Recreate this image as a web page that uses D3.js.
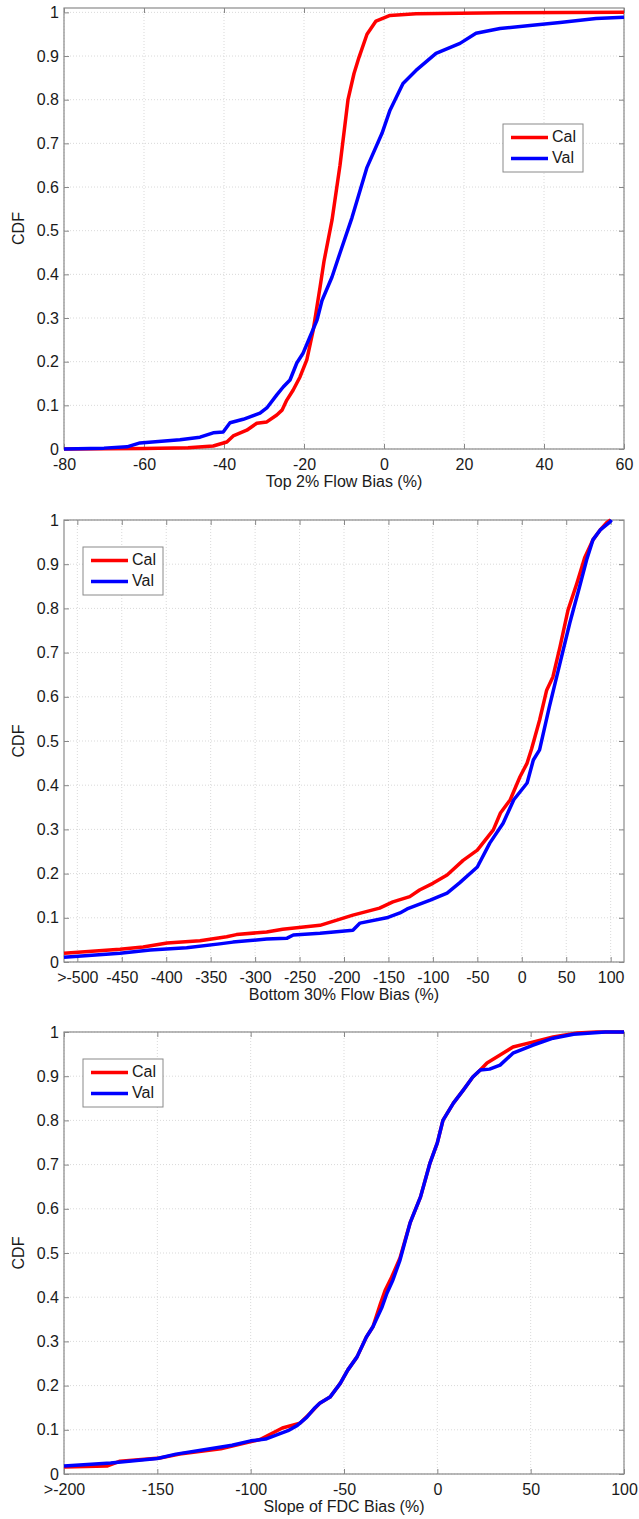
<!DOCTYPE html>
<html><head><meta charset="utf-8">
<script src="https://cdn.jsdelivr.net/npm/d3@7"></script>
<style>
body{margin:0;background:#fff;}
text{font-family:"Liberation Sans",Arial,sans-serif;fill:#1a1a1a;}
</style></head>
<body><svg id="c" width="639" height="1519"></svg>
<script>
// ---------- data ----------
const yTicks = [0,0.1,0.2,0.3,0.4,0.5,0.6,0.7,0.8,0.9,1];
const seriesNames = ["Cal","Val"];

const p1Ticks = [-80,-60,-40,-20,0,20,40,60];
const p1TickLabels = ["-80","-60","-40","-20","0","20","40","60"];
const p1CalX = [-80,-60,-49,-42.7,-39.3,-37.7,-34.3,-31.8,-29.3,-26.8,-25.5,-24.3,-22.7,-21,-19.3,-17.7,-16,-15,-13,-11,-9,-7.5,-6.25,-4.25,-2,1.5,8,30,60];
const p1CalY = [0,0.001,0.003,0.007,0.016,0.03,0.043,0.059,0.062,0.078,0.089,0.112,0.135,0.165,0.204,0.272,0.37,0.43,0.524,0.65,0.80,0.86,0.897,0.95,0.98,0.993,0.997,0.999,1.0];
const p1ValX = [-80,-70,-64.25,-61,-51,-46,-42.7,-40.2,-38.5,-35.2,-31,-29.3,-26.8,-25.2,-23.5,-21.8,-20.2,-18.5,-16.75,-15.5,-13,-11,-8,-4.25,-0.5,1.5,4.75,8,13,19,23,29,36.5,44,53,60];
const p1ValY = [0,0.002,0.005,0.014,0.021,0.027,0.037,0.039,0.06,0.068,0.082,0.094,0.124,0.142,0.158,0.197,0.22,0.257,0.295,0.34,0.394,0.449,0.53,0.645,0.723,0.776,0.837,0.867,0.906,0.929,0.952,0.963,0.970,0.977,0.986,0.989];

const p2Ticks = [-500,-450,-400,-350,-300,-250,-200,-150,-100,-50,0,50,100];
const p2TickLabels = [">-500","-450","-400","-350","-300","-250","-200","-150","-100","-50","0","50","100"];
const p2CalX = [-515,-452,-426,-399,-362,-332,-321,-287,-269,-227,-190,-160,-145,-126,-115,-100,-84,-66,-50,-32,-24,-13,-2,6,11,20,28,35,43,52,62,71,80,88,96,100];
const p2CalY = [0.020,0.029,0.034,0.043,0.048,0.057,0.062,0.068,0.074,0.083,0.106,0.122,0.136,0.148,0.163,0.178,0.197,0.23,0.253,0.299,0.337,0.367,0.419,0.45,0.482,0.547,0.615,0.645,0.713,0.796,0.857,0.916,0.955,0.977,0.995,1.0];
const p2ValX = [-515,-452,-418,-377,-340,-325,-287,-264,-257,-227,-190,-182,-152,-137,-129,-103,-84,-70,-50,-36,-21,-9,6,13,20,31,43,54,65,73,80,88,99,101];
const p2ValY = [0.011,0.02,0.027,0.032,0.041,0.045,0.052,0.054,0.061,0.065,0.072,0.088,0.1,0.111,0.12,0.14,0.156,0.179,0.215,0.269,0.314,0.367,0.405,0.457,0.48,0.577,0.676,0.767,0.849,0.91,0.955,0.977,0.995,1.0];

const p3Ticks = [-200,-150,-100,-50,0,50,100];
const p3TickLabels = [">-200","-150","-100","-50","0","50","100"];
const p3CalX = [-200,-177,-170,-148.6,-138,-116,-102,-95,-83,-73.6,-68,-63,-57.5,-52,-48,-43,-38,-34.5,-30.5,-28,-24.5,-20,-14.6,-9,-3.9,0,3,8.6,14,19,23,26.6,33.6,40.5,51,62,75,85,100];
const p3CalY = [0.016,0.018,0.029,0.036,0.045,0.057,0.071,0.078,0.104,0.115,0.138,0.16,0.174,0.205,0.235,0.265,0.31,0.333,0.385,0.415,0.445,0.489,0.568,0.627,0.704,0.749,0.80,0.839,0.869,0.898,0.914,0.93,0.948,0.966,0.977,0.989,0.998,1.0,1.0];
const p3ValX = [-200,-175,-150,-140,-125,-110,-100,-92,-85,-80,-75,-70,-66,-63,-57.5,-52,-48,-43,-38,-34.5,-29.6,-27,-23.8,-20,-14.6,-9,-3.9,0,3,8.6,14,19,23,28,33.6,40.5,51,62,73,90,100];
const p3ValY = [0.018,0.025,0.035,0.045,0.055,0.065,0.075,0.079,0.09,0.098,0.11,0.128,0.148,0.16,0.174,0.205,0.235,0.265,0.31,0.333,0.378,0.409,0.439,0.484,0.568,0.627,0.704,0.749,0.80,0.839,0.869,0.898,0.914,0.916,0.925,0.952,0.97,0.986,0.995,1.0,1.0];

const panels = [
  {top:8, bottom:449, xdom:[-80,60], ydom:[0,1.01], ticks:p1Ticks, labels:p1TickLabels, title:"Top 2% Flow Bias (%)",
   cal:[p1CalX,p1CalY], val:[p1ValX,p1ValY], legend:{x:503,y:124}},
  {top:520, bottom:962, xdom:[-515,115], ydom:[0,1], ticks:p2Ticks, labels:p2TickLabels, title:"Bottom 30% Flow Bias (%)",
   cal:[p2CalX,p2CalY], val:[p2ValX,p2ValY], legend:{x:83,y:547}},
  {top:1032, bottom:1474, xdom:[-200,100], ydom:[0,1], ticks:p3Ticks, labels:p3TickLabels, title:"Slope of FDC Bias (%)",
   cal:[p3CalX,p3CalY], val:[p3ValX,p3ValY], legend:{x:83,y:1059}}
];
const colors = {Cal:"#ff0000", Val:"#0000ff"};

const svg = d3.select("#c");
const L = 64, R = 624;

panels.forEach(p => {
  const x = d3.scaleLinear().domain(p.xdom).range([L,R]);
  const y = d3.scaleLinear().domain(p.ydom).range([p.bottom,p.top]);
  const g = svg.append("g");

  // grid
  g.selectAll(".gx").data(p.ticks).enter().append("line")
    .attr("x1",d=>x(d)).attr("x2",d=>x(d)).attr("y1",p.top).attr("y2",p.bottom)
    .attr("stroke","#d9d9d9").attr("stroke-width",1).attr("stroke-dasharray","1,2");
  g.selectAll(".gy").data(yTicks).enter().append("line")
    .attr("x1",L).attr("x2",R).attr("y1",d=>y(d)).attr("y2",d=>y(d))
    .attr("stroke","#d9d9d9").attr("stroke-width",1).attr("stroke-dasharray","1,2");

  // axes with inside ticks
  const ax = g.append("g").attr("transform",`translate(0,${p.bottom})`)
    .call(d3.axisBottom(x).tickValues(p.ticks).tickSize(-5).tickPadding(10).tickFormat((d,i)=>p.labels[i]));
  const axT = g.append("g").attr("transform",`translate(0,${p.top})`)
    .call(d3.axisTop(x).tickValues(p.ticks).tickSize(-5).tickFormat(""));
  const ay = g.append("g").attr("transform",`translate(${L},0)`)
    .call(d3.axisLeft(y).tickValues(yTicks).tickSize(-5).tickPadding(5).tickFormat(d=>d===0?"0":d===1?"1":d3.format(".1f")(d)));
  const ayR = g.append("g").attr("transform",`translate(${R},0)`)
    .call(d3.axisRight(y).tickValues(yTicks).tickSize(-5).tickFormat(""));
  [ax,axT,ay,ayR].forEach(a=>{
    a.select(".domain").remove();
    a.selectAll("line").attr("stroke","#888");
    a.selectAll("text").attr("font-size",16).attr("fill","#1a1a1a").attr("font-family","Liberation Sans, Arial, sans-serif");
  });
  g.append("rect").attr("x",L).attr("y",p.top).attr("width",R-L).attr("height",p.bottom-p.top)
    .attr("fill","none").attr("stroke","#8a8a8a").attr("stroke-width",1.2);

  // curves
  const line = d3.line().x(d=>x(d[0])).y(d=>y(d[1]));
  [["Cal",p.cal],["Val",p.val]].forEach(([name,arr])=>{
    const pts = arr[0].map((v,i)=>[v,arr[1][i]]);
    g.append("path").datum(pts).attr("d",line).attr("fill","none")
      .attr("stroke",colors[name]).attr("stroke-width",3.5).attr("stroke-linejoin","round");
  });

  // labels
  g.append("text").attr("x",(L+R)/2).attr("y",p.bottom+34).attr("text-anchor","middle")
    .attr("dominant-baseline","middle").attr("font-size",16).text(p.title);
  g.append("text").attr("transform",`translate(20,${(p.top+p.bottom)/2}) rotate(-90)`)
    .attr("text-anchor","middle").attr("dominant-baseline","middle").attr("font-size",16).text("CDF");

  // legend
  const lg = g.append("g").attr("transform",`translate(${p.legend.x},${p.legend.y})`);
  lg.append("rect").attr("width",80).attr("height",48).attr("fill","#fff").attr("stroke","#8a8a8a").attr("stroke-width",1);
  seriesNames.forEach((n,i)=>{
    const yy = 13.5 + i*21;
    lg.append("line").attr("x1",8).attr("x2",45).attr("y1",yy).attr("y2",yy)
      .attr("stroke",colors[n]).attr("stroke-width",3.5);
    lg.append("text").attr("x",49).attr("y",yy).attr("dominant-baseline","middle").attr("font-size",16).text(n);
  });
});
</script></body></html>
